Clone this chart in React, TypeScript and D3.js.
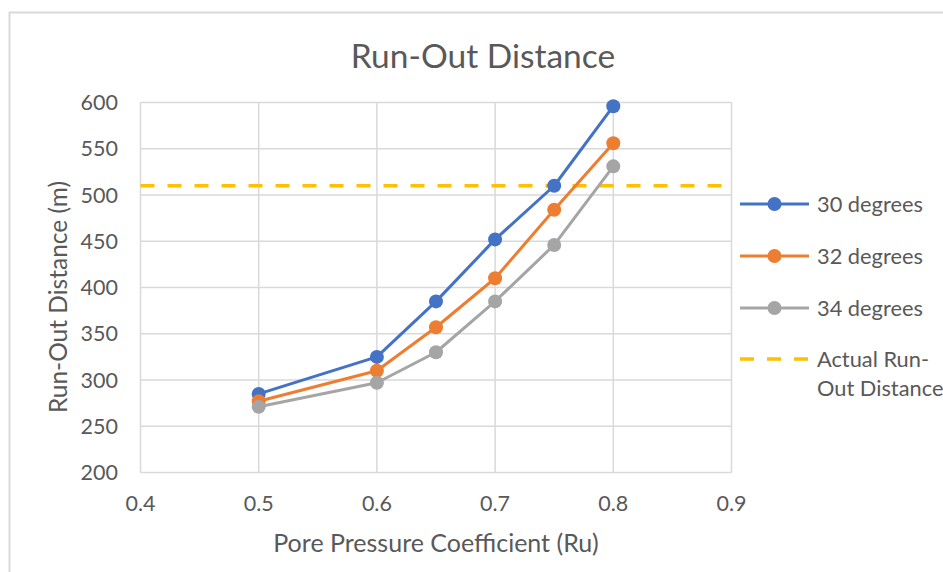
import React, { useEffect, useRef } from "react";
import * as d3 from "d3";

const ru = [0.5, 0.6, 0.65, 0.7, 0.75, 0.8];
const deg30 = [285, 325, 385, 452, 510, 596];
const deg32 = [277, 310, 357, 410, 484, 556];
const deg34 = [271, 297, 330, 385, 446, 531];
const actualRunOut = 510;

const xTicks = [0.4, 0.5, 0.6, 0.7, 0.8, 0.9];
const yTicks = [200, 250, 300, 350, 400, 450, 500, 550, 600];

const seriesNames = ["30 degrees", "32 degrees", "34 degrees"];
const seriesColors = ["#4472C4", "#ED7D31", "#A5A5A5"];
const actualName = ["Actual Run-", "Out Distance"];
const actualColor = "#FFC000";

const W = 943;
const H = 572;
const FONT = "Lato, 'Open Sans', sans-serif";
const TEXT = "#595959";
const GRID = "#D9D9D9";

export default function App() {
  const ref = useRef<SVGSVGElement | null>(null);

  useEffect(() => {
    const svg = d3.select(ref.current);
    svg.selectAll("*").remove();

    const x = d3.scaleLinear().domain([0.4, 0.9]).range([140.5, 731.5]);
    const y = d3.scaleLinear().domain([200, 600]).range([472.5, 102.5]);

    // chart frame
    svg
      .append("rect")
      .attr("x", 9.5)
      .attr("y", 12.5)
      .attr("width", W + 20)
      .attr("height", H + 20)
      .attr("fill", "#fff")
      .attr("stroke", GRID)
      .attr("stroke-width", 2);

    // title
    svg
      .append("text")
      .attr("x", 483)
      .attr("y", 68)
      .attr("text-anchor", "middle")
      .attr("font-family", FONT)
      .attr("font-size", 33.5)
      .attr("fill", TEXT)
      .text("Run-Out Distance");

    // gridlines
    const g = svg.append("g");
    g.selectAll("line.h")
      .data(yTicks)
      .join("line")
      .attr("x1", x(0.4))
      .attr("x2", x(0.9))
      .attr("y1", (d) => y(d))
      .attr("y2", (d) => y(d))
      .attr("stroke", GRID)
      .attr("stroke-width", 1.5);
    g.selectAll("line.v")
      .data(xTicks)
      .join("line")
      .attr("y1", y(200))
      .attr("y2", y(600))
      .attr("x1", (d) => x(d))
      .attr("x2", (d) => x(d))
      .attr("stroke", GRID)
      .attr("stroke-width", 1.5);

    // tick labels
    g.selectAll("text.yt")
      .data(yTicks)
      .join("text")
      .attr("x", 118)
      .attr("y", (d) => y(d) + 7.5)
      .attr("text-anchor", "end")
      .attr("font-family", FONT)
      .attr("font-size", 21.5)
      .attr("fill", TEXT)
      .text((d) => d3.format("d")(d));
    g.selectAll("text.xt")
      .data(xTicks)
      .join("text")
      .attr("x", (d) => x(d))
      .attr("y", 511)
      .attr("text-anchor", "middle")
      .attr("font-family", FONT)
      .attr("font-size", 21.5)
      .attr("fill", TEXT)
      .text((d) => d3.format(".1f")(d));

    // axis titles
    svg
      .append("text")
      .attr("x", 436)
      .attr("y", 552)
      .attr("text-anchor", "middle")
      .attr("font-family", FONT)
      .attr("font-size", 25)
      .attr("fill", TEXT)
      .text("Pore Pressure Coefficient (Ru)");
    svg
      .append("text")
      .attr("transform", `translate(67,297) rotate(-90)`)
      .attr("text-anchor", "middle")
      .attr("font-family", FONT)
      .attr("font-size", 24.5)
      .attr("fill", TEXT)
      .text("Run-Out Distance (m)");

    // actual run-out reference line
    svg
      .append("line")
      .attr("x1", x(0.4))
      .attr("x2", x(0.9))
      .attr("y1", y(actualRunOut))
      .attr("y2", y(actualRunOut))
      .attr("stroke", actualColor)
      .attr("stroke-width", 3.5)
      .attr("stroke-dasharray", "14 13");

    // series lines and markers
    const allSeries = [deg30, deg32, deg34];
    const line = d3
      .line<number>()
      .x((_, i) => x(ru[i]))
      .y((d) => y(d));
    allSeries.forEach((vals, s) => {
      svg
        .append("path")
        .attr("d", line(vals) as string)
        .attr("fill", "none")
        .attr("stroke", seriesColors[s])
        .attr("stroke-width", 3)
        .attr("stroke-linejoin", "round");
      svg
        .append("g")
        .selectAll("circle")
        .data(vals)
        .join("circle")
        .attr("cx", (_, i) => x(ru[i]))
        .attr("cy", (d) => y(d))
        .attr("r", 7)
        .attr("fill", seriesColors[s]);
    });

    // legend
    const legY = [204, 256, 308, 359];
    const lg = svg.append("g");
    seriesNames.forEach((name, s) => {
      lg.append("line")
        .attr("x1", 740)
        .attr("x2", 809)
        .attr("y1", legY[s])
        .attr("y2", legY[s])
        .attr("stroke", seriesColors[s])
        .attr("stroke-width", 3);
      lg.append("circle")
        .attr("cx", 774.5)
        .attr("cy", legY[s])
        .attr("r", 7)
        .attr("fill", seriesColors[s]);
      lg.append("text")
        .attr("x", 817)
        .attr("y", legY[s] + 7.5)
        .attr("font-family", FONT)
        .attr("font-size", 21.8)
        .attr("fill", TEXT)
        .text(name);
    });
    lg.append("line")
      .attr("x1", 740)
      .attr("x2", 809)
      .attr("y1", legY[3])
      .attr("y2", legY[3])
      .attr("stroke", actualColor)
      .attr("stroke-width", 3.5)
      .attr("stroke-dasharray", "14 13");
    actualName.forEach((t, i) => {
      lg.append("text")
        .attr("x", 817)
        .attr("y", legY[3] + 7.5 + i * 29)
        .attr("font-family", FONT)
        .attr("font-size", 21.8)
        .attr("fill", TEXT)
        .text(t);
    });
  }, []);

  return (
    <svg
      ref={ref}
      width={W}
      height={H}
      style={{ position: "absolute", left: 0, top: 0, display: "block" }}
    />
  );
}
